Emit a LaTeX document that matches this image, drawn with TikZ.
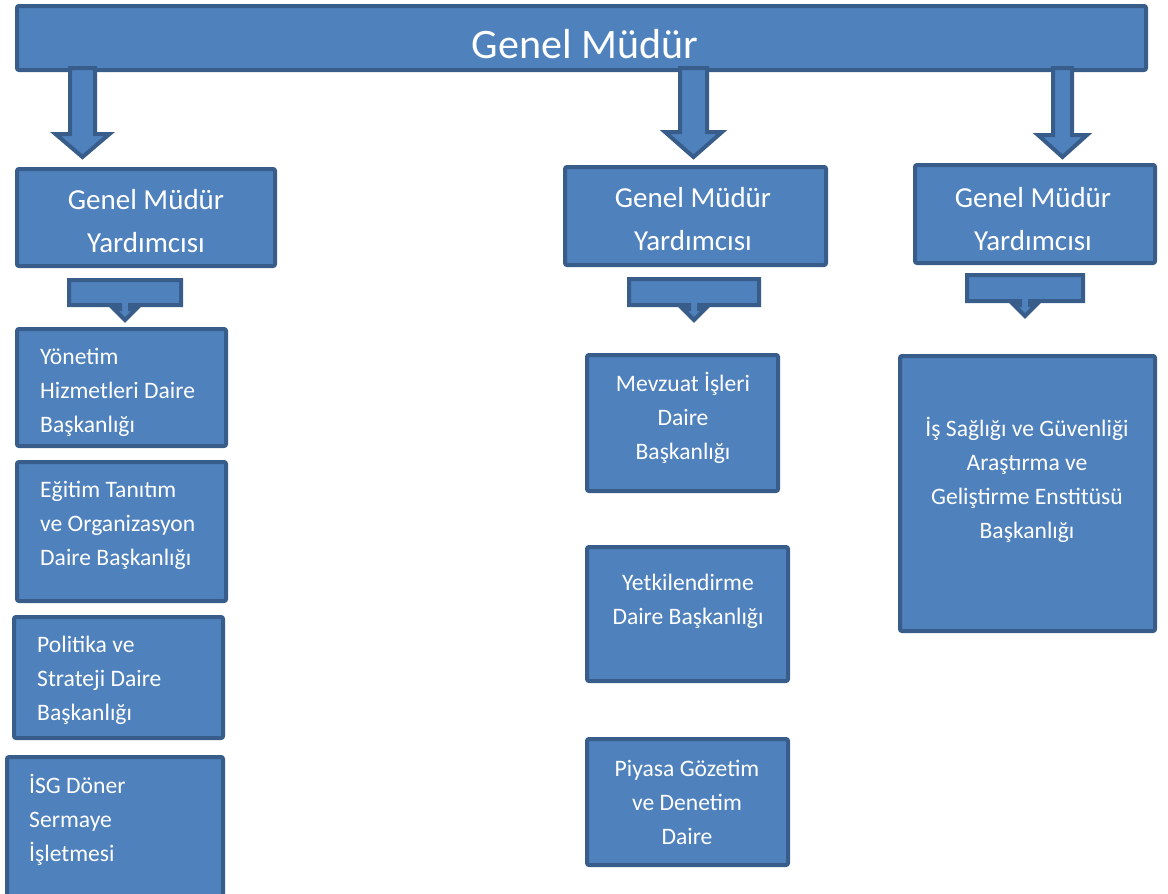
\documentclass[tikz,border=0pt]{standalone}
\usepackage{fontspec}
\setmainfont{Carlito}
\usetikzlibrary{shapes.arrows}

\definecolor{unitfill}{HTML}{4F81BD}
\definecolor{unitline}{HTML}{385D8A}

\begin{document}
\begin{tikzpicture}[x=1pt,y=-1pt,
  unit/.style={rectangle,draw=unitline,fill=unitfill,line width=4pt,rounded corners=2pt,inner sep=0pt},
  unittext/.style={text=white,inner sep=0pt,font=\fontsize{23.6}{34}\selectfont},
  deputytext/.style={text=white,inner sep=0pt,align=center,font=\fontsize{29}{43}\selectfont},
  callout/.style={shape=arrow box,draw=unitline,fill=unitfill,line width=4pt,inner sep=0pt,
    arrow box arrows={north:0pt,east:0pt,west:0pt,south:13pt},
    arrow box shaft width=10pt,arrow box head extend=6pt},
  bigarrow/.style={draw=unitline,fill=unitfill,line width=4pt,line join=miter}]
\useasboundingbox (0,0) rectangle (1168,894);

% genel mudur
\node (gm) at (581.5,38) [unit,minimum width=1129,minimum height=64,
  label={[text=white,inner sep=0pt,xshift=3.5pt,yshift=-6.5pt,font=\fontsize{42}{50}\selectfont]center:Genel Müdür}] {};

\draw[bigarrow] (70,68) -- (95,68) -- (95,134) -- (109.5,134) -- (82.5,157) -- (55.5,134) -- (70,134) -- cycle;
\draw[bigarrow] (680,68) -- (707,68) -- (707,132) -- (722,132) -- (693.5,157) -- (665,132) -- (680,132) -- cycle;
\draw[bigarrow] (1053,68) -- (1072,68) -- (1072,135) -- (1087,135) -- (1062.5,157) -- (1038,135) -- (1053,135) -- cycle;

% yardimcilar
\node (gmy1) at (146,217.5) [unit,minimum width=258,minimum height=97,
  label={[deputytext,yshift=-4pt]center:Genel Müdür\\Yardımcısı}] {};
\node (gmy2) at (695.5,216) [unit,minimum width=261,minimum height=98,
  label={[deputytext,xshift=-2.5pt,yshift=-3pt]center:Genel Müdür\\Yardımcısı}] {};
\node (gmy3) at (1035,214) [unit,minimum width=240,minimum height=98,
  label={[deputytext,xshift=-2pt,yshift=-5pt]center:Genel Müdür\\Yardımcısı}] {};

\node (c1) at (125,292.5) [callout,minimum width=112,minimum height=25] {};
\node (c2) at (694,292) [callout,minimum width=130,minimum height=26] {};
\node (c3) at (1025,288) [callout,minimum width=116,minimum height=26] {};

% sol sutun
\node (yon) at (121.5,387.5) [unit,minimum width=209,minimum height=117,
  label={[unittext,align=left,anchor=west,xshift=25pt,yshift=-4.5pt]west:Yönetim\\Hizmetleri Daire\\Başkanlığı}] {};
\node (egt) at (121.5,531.5) [unit,minimum width=209,minimum height=139,
  label={[unittext,align=left,anchor=west,xshift=25pt,yshift=6.5pt]west:Eğitim Tanıtım\\ve Organizasyon\\Daire Başkanlığı}] {};
\node (pol) at (118.5,677.5) [unit,minimum width=209,minimum height=121,
  label={[unittext,align=left,anchor=west,xshift=25pt,yshift=-2.5pt]west:Politika ve\\Strateji Daire\\Başkanlığı}] {};
\node (isg) at (115,827.5) [unit,minimum width=216,minimum height=141,
  label={[unittext,align=left,anchor=west,xshift=24pt,yshift=7.5pt]west:İSG Döner\\Sermaye\\İşletmesi}] {};

% orta sutun
\node (mev) at (682.5,423) [unit,minimum width=191,minimum height=136,
  label={[unittext,align=center,xshift=0.5pt,yshift=5.5pt]center:Mevzuat İşleri\\Daire\\Başkanlığı}] {};
\node (yet) at (687.5,614) [unit,minimum width=201,minimum height=134,
  label={[unittext,align=center,xshift=0.5pt,yshift=12.5pt]center:Yetkilendirme\\Daire Başkanlığı}] {};
\node (piy) at (687.5,802) [unit,minimum width=201,minimum height=126,
  label={[unittext,align=center,xshift=-0.5pt,yshift=0pt]center:Piyasa Gözetim\\ve Denetim\\Daire}] {};

% sag sutun
\node (enst) at (1027.5,493.5) [unit,minimum width=255,minimum height=275,
  label={[unittext,align=center,xshift=-0.5pt,yshift=13.5pt]center:İş Sağlığı ve Güvenliği\\Araştırma ve\\Geliştirme Enstitüsü\\Başkanlığı}] {};
\end{tikzpicture}
\end{document}
